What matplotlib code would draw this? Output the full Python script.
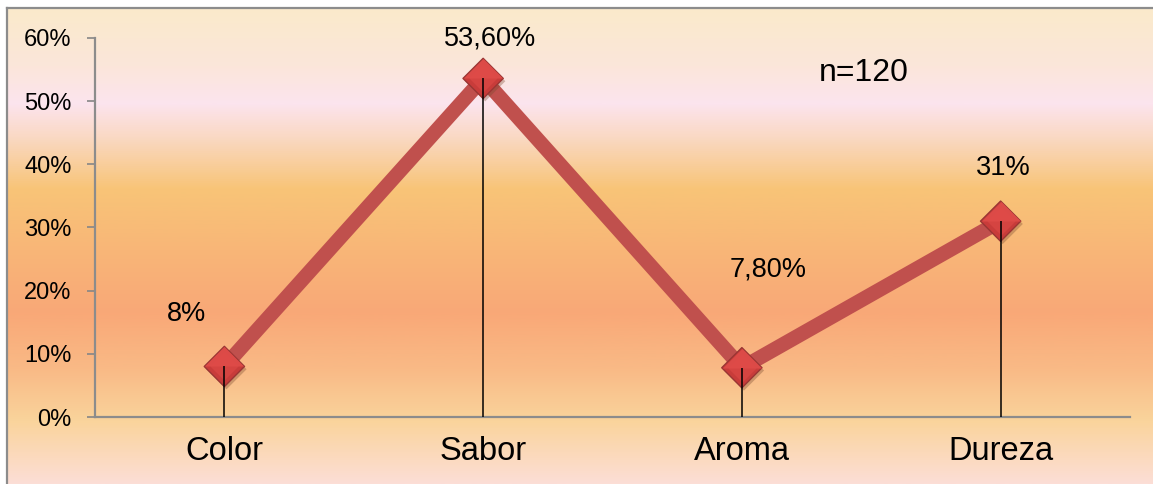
import numpy as np
import matplotlib
matplotlib.use("Agg")
import matplotlib.pyplot as plt
from matplotlib.colors import LinearSegmentedColormap
from matplotlib.ticker import FuncFormatter
from matplotlib.path import Path
import matplotlib.patheffects as pe

# Survey results: share of respondents per attribute (n=120)
categories = ["Color", "Sabor", "Aroma", "Dureza"]
values = [0.08, 0.536, 0.078, 0.31]
value_labels = ["8%", "53,60%", "7,80%", "31%"]
yticks = [0.0, 0.1, 0.2, 0.3, 0.4, 0.5, 0.6]
sample_note = "n=120"

# label offsets (points) relative to each point
label_offsets = [(-27, 38), (5, 29), (19, 71), (2, 38)]

plt.rcParams["font.family"] = ["Liberation Sans", "DejaVu Sans"]

W, H, DPI = 1153, 484, 100
fig = plt.figure(figsize=(W / DPI, H / DPI), dpi=DPI, facecolor="white")

# warm vertical gradient behind the whole chart area
bg_stops = [
    (0.00, "#FAEACB"),
    (0.12, "#FBE6DA"),
    (0.20, "#FCE4EE"),
    (0.27, "#FAD9C4"),
    (0.38, "#F8C477"),
    (0.50, "#F8B778"),
    (0.64, "#F9A877"),
    (0.76, "#F9BA86"),
    (0.87, "#FAD49C"),
    (1.00, "#FCDED6"),
]
cmap = LinearSegmentedColormap.from_list("warm", bg_stops)
x0, y0 = 7 / W, 8 / H
bg = fig.add_axes([x0, 0, 1 - x0, 1 - y0], zorder=0)
grad = np.linspace(0, 1, 512).reshape(-1, 1)
bg.imshow(grad, aspect="auto", cmap=cmap, extent=[0, 1, 0, 1], origin="upper")
bg.set_axis_off()
# frame around the chart
fig.add_artist(plt.Line2D([x0, x0], [0, 1 - y0], transform=fig.transFigure,
                          color="#8C8C8C", lw=1.6, zorder=5))
fig.add_artist(plt.Line2D([x0, 1], [1 - y0, 1 - y0], transform=fig.transFigure,
                          color="#8C8C8C", lw=1.6, zorder=5))

left, right = 95 / W, 1130 / W
bottom, top = 1 - 417 / H, 1 - 38 / H
ax = fig.add_axes([left, bottom, right - left, top - bottom], zorder=2)
ax.patch.set_alpha(0)

xpos = np.arange(len(categories)) + 0.5
ax.set_xlim(0, len(categories))
ax.set_ylim(0, 0.6)

ax.plot(xpos, values, color="#C0504D", lw=10.5, solid_capstyle="butt",
        solid_joinstyle="miter", zorder=3)

# bevelled diamond markers: full diamond plus a lighter upper facet
diamond = Path([(0, 1), (1, 0), (0, -1), (-1, 0), (0, 1)],
               [Path.MOVETO, Path.LINETO, Path.LINETO, Path.LINETO, Path.CLOSEPOLY])
upper = Path([(-1, 0), (0, 1), (1, 0), (-1, 0)],
             [Path.MOVETO, Path.LINETO, Path.LINETO, Path.CLOSEPOLY])
ms = 29
ax.plot(xpos, values, linestyle="none", marker=diamond, markersize=ms,
        markerfacecolor="#C83C3A", markeredgecolor="#9A3634",
        markeredgewidth=1.0, zorder=4,
        path_effects=[pe.SimplePatchShadow(offset=(1.5, -2), alpha=0.35,
                                           shadow_rgbFace="#7A4A30"),
                      pe.Normal()])
ax.plot(xpos, values, linestyle="none", marker=upper, markersize=ms * 0.97,
        markerfacecolor="#DC4A47", markeredgecolor="none", zorder=4.1)
ax.plot(xpos, values, linestyle="none", marker=diamond, markersize=ms * 0.7,
        markerfacecolor="#E04B48", markeredgecolor="none", alpha=0.55, zorder=4.2)
ax.vlines(xpos, 0, values, color="black", lw=1.1, zorder=5)

for x, v, lab, off in zip(xpos, values, value_labels, label_offsets):
    ax.annotate(lab, (x, v), xytext=off, textcoords="offset points",
                ha="center", va="center", fontsize=19.5, color="black", zorder=6)

ax.text(864 / W, 1 - 73 / H, sample_note, transform=fig.transFigure,
        ha="center", va="center", fontsize=23, color="black")

ax.set_yticks(yticks)
ax.yaxis.set_major_formatter(FuncFormatter(lambda v, _: f"{v * 100:.0f}%"))
ax.set_xticks(xpos)
ax.set_xticklabels(categories, fontsize=23.5)
ax.tick_params(axis="x", length=0, pad=14)
ax.tick_params(axis="y", length=6, width=1.2, color="#868686", pad=11,
               labelsize=17, direction="out")

for side in ("top", "right"):
    ax.spines[side].set_visible(False)
for side in ("left", "bottom"):
    ax.spines[side].set_color("#8C8C8C")
    ax.spines[side].set_linewidth(1.6)

fig.savefig("out.png", dpi=DPI, facecolor="white")
